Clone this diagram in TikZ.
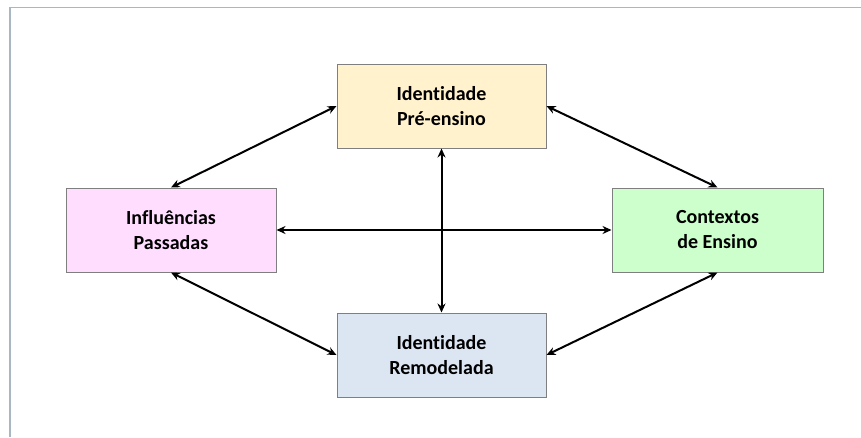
\documentclass[tikz,border=0pt]{standalone}
\usepackage{fontspec}
\setmainfont{Carlito}[Ligatures=NoCommon]
\usetikzlibrary{arrows.meta}
\definecolor{frameC}{HTML}{A7B8C2}
\definecolor{topC}{HTML}{FFF2CC}
\definecolor{leftC}{HTML}{FFDDFF}
\definecolor{rightC}{HTML}{CCFFCC}
\definecolor{botC}{HTML}{DCE6F2}
\definecolor{edgeC}{HTML}{7F7F7F}
\tikzset{
  box/.style={draw=edgeC, line width=1pt, minimum width=209pt, minimum height=84pt,
    align=center, font=\bfseries\fontsize{20}{25}\selectfont, inner sep=0pt},
  link/.style={line width=2pt, {Stealth[length=9pt,width=8pt]}-{Stealth[length=9pt,width=8pt]}}
}
\begin{document}
\begin{tikzpicture}[x=1pt,y=-1pt]
\useasboundingbox (0,0) rectangle (861,437);
\fill[white] (0,0) rectangle (861,437);
\draw[frameC, line width=1.5pt] (10,437) -- (10,7.5) -- (861,7.5);
\node[box, fill=topC] (pre) at (441.5,106) {Identidade\\Pré-ensino};
\node[box, fill=leftC, minimum width=210pt] (inf) at (171,230) {Influências\\Passadas};
\node[box, fill=rightC, minimum width=211pt] (ctx) at (717.5,230) {Contextos\\de Ensino};
\node[box, fill=botC] (rem) at (441.5,355) {Identidade\\Remodelada};
\draw[link] (inf.north) -- (pre.west);
\draw[link] (pre.east) -- (ctx.north);
\draw[link] (inf.south) -- (rem.west);
\draw[link] (rem.east) -- (ctx.south);
\draw[link] (inf.east) -- (ctx.west);
\draw[link] (pre.south) -- (rem.north);
\end{tikzpicture}
\end{document}
